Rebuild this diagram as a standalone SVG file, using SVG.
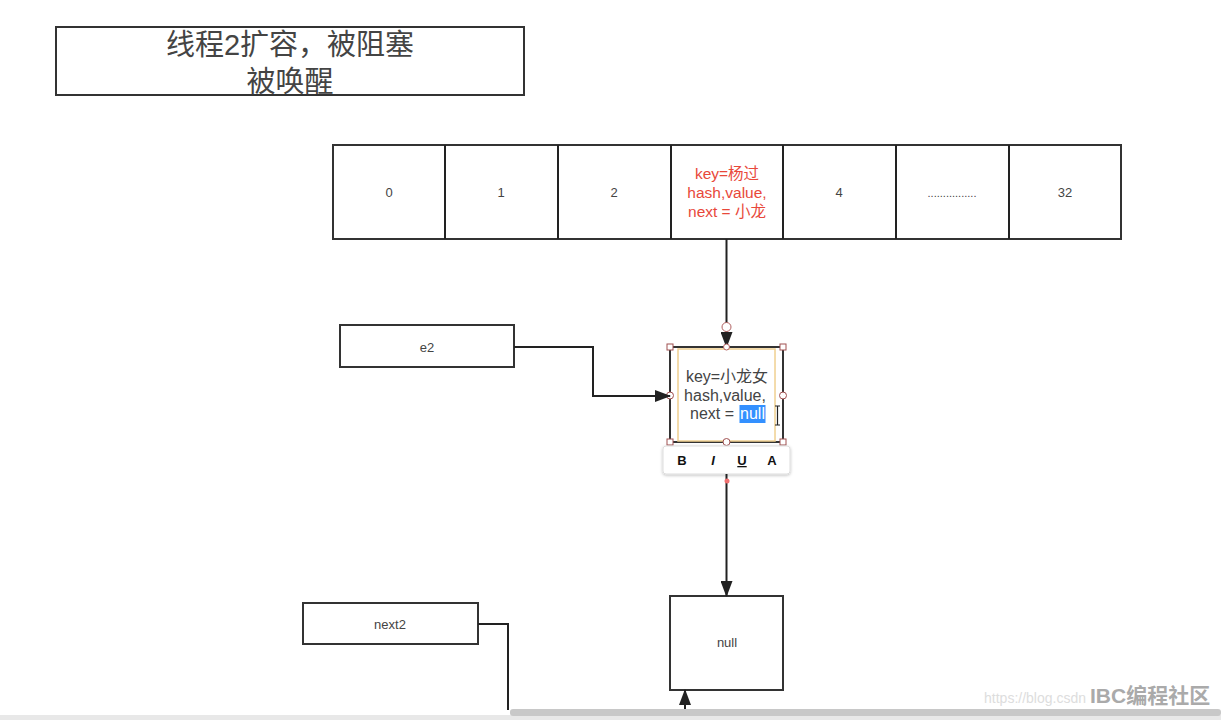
<svg xmlns="http://www.w3.org/2000/svg" width="1221" height="720" viewBox="0 0 1221 720">
<style>
.box{fill:#fff;stroke:#333;stroke-width:2}
.t{font-family:"Liberation Sans","Noto Sans CJK SC",sans-serif;fill:#444;text-anchor:middle}
.s{font-size:13px}
.red{fill:#e8483a;font-size:15.5px}
.mid{font-size:16px;fill:#444}
.edge{fill:none;stroke:#222;stroke-width:2}
.hs{fill:#fff;stroke:#a05050;stroke-width:1}
.tb{font-family:"Liberation Sans",sans-serif;font-size:13px;fill:#111;text-anchor:middle;font-weight:bold}
</style>
<defs>
<marker id="ahl" markerWidth="16" markerHeight="12" refX="15" refY="6" orient="auto" markerUnits="userSpaceOnUse" viewBox="0 0 16 12">
<path d="M0,0 L16,6 L0,12 Z" fill="#222"/>
</marker>
<filter id="sh" x="-10%" y="-20%" width="120%" height="160%">
<feDropShadow dx="0" dy="1" stdDeviation="1.5" flood-color="#000" flood-opacity="0.25"/>
</filter>
</defs>
<rect width="1221" height="720" fill="#fff"/>

<g id="title">
<rect class="box" x="56" y="27" width="468" height="68"/>
<text class="t" x="290" y="55" font-size="29">线程2扩容，被阻塞</text>
<text class="t" x="290" y="92" font-size="29">被唤醒</text>
</g>

<g id="array">
<rect class="box" x="333" y="145" width="788" height="94"/>
<line class="edge" x1="445" y1="145" x2="445" y2="239"/>
<line class="edge" x1="558" y1="145" x2="558" y2="239"/>
<line class="edge" x1="671" y1="145" x2="671" y2="239"/>
<line class="edge" x1="783" y1="145" x2="783" y2="239"/>
<line class="edge" x1="896" y1="145" x2="896" y2="239"/>
<line class="edge" x1="1009" y1="145" x2="1009" y2="239"/>
<text class="t s" x="389" y="197">0</text>
<text class="t s" x="501" y="197">1</text>
<text class="t s" x="614" y="197">2</text>
<text class="t red" x="727" y="179">key=杨过</text>
<text class="t red" x="727" y="198">hash,value,</text>
<text class="t red" x="727" y="217"> next = 小龙</text>
<text class="t s" x="839" y="197">4</text>
<text class="t" x="952" y="197" font-size="11">................</text>
<text class="t s" x="1065" y="197">32</text>
</g>

<g id="e2">
<rect class="box" x="340" y="325" width="174" height="42"/>
<text class="t s" x="427" y="352">e2</text>
</g>

<g id="node">
<rect class="box" x="670" y="347" width="113" height="95"/>
<rect x="678" y="349" width="97" height="92" fill="#fff" stroke="#f0d090" stroke-width="1.5"/>
<text class="t mid" x="727" y="382">key=小龙女</text>
<text class="t mid" x="725" y="401">hash,value,</text>
<rect x="739.5" y="405" width="26" height="18" fill="#3390ff"/>
<text class="t mid" x="712" y="419">next =</text>
<text class="t mid" x="752.5" y="419" style="fill:#fff">null</text>
<path d="M775,406 h5 M777.5,406 v19 M775,425 h5" stroke="#222" stroke-width="1.2" fill="none"/>
<rect class="hs" x="667" y="344" width="6" height="6"/>
<rect class="hs" x="780" y="344" width="6" height="6"/>
<rect class="hs" x="667" y="439" width="6" height="6"/>
<rect class="hs" x="780" y="439" width="6" height="6"/>
<circle class="hs" cx="670" cy="395.5" r="3.5"/>
<circle class="hs" cx="783" cy="395.5" r="3.5"/>
<circle class="hs" cx="726.5" cy="442" r="3.5"/>
</g>

<g id="toolbar">
<rect x="663" y="446" width="127" height="28" rx="3" fill="#fff" stroke="#ddd" stroke-width="1" filter="url(#sh)"/>
<text class="tb" x="682" y="465">B</text>
<text class="tb" x="713" y="465" font-style="italic">I</text>
<text class="tb" x="742" y="465" text-decoration="underline">U</text>
<text class="tb" x="772" y="465">A</text>
</g>

<g id="nullnode">
<rect class="box" x="670" y="596" width="113" height="94"/>
<text class="t s" x="727" y="647">null</text>
</g>

<g id="next2">
<rect class="box" x="303" y="603" width="175" height="41"/>
<text class="t s" x="390" y="629">next2</text>
</g>

<g id="connectors">
<path class="edge" d="M726.5,239 V347" marker-end="url(#ahl)"/>
<circle cx="726.5" cy="327" r="4.5" fill="#fff" stroke="#b06060" stroke-width="1"/>
<circle cx="726.5" cy="347" r="3" fill="#fff" stroke="#b06060" stroke-width="1"/>
<path class="edge" d="M514,347 H593 V396 H670" marker-end="url(#ahl)"/>
<path class="edge" d="M726.5,474 V596" marker-end="url(#ahl)"/>
<circle cx="727" cy="481" r="2.5" fill="#f07070"/>
<path class="edge" d="M478,624 H508 V710"/>
<path class="edge" d="M685,712 V690" marker-end="url(#ahl)"/>
</g>

<g id="chrome">
<rect x="0" y="715" width="1221" height="5" fill="#e8e8e8"/>
<rect x="510" y="709" width="711" height="7" rx="3" fill="#c8c8c8"/>
<text x="1086" y="703" text-anchor="end" font-family="Liberation Sans,sans-serif" font-size="14" fill="#ddd">https://blog.csdn</text>
<text x="1090" y="703" font-family="Liberation Sans,Noto Sans CJK SC,sans-serif" font-size="21" font-weight="bold" fill="#aaa">IBC编程社区</text>
</g>
</svg>
